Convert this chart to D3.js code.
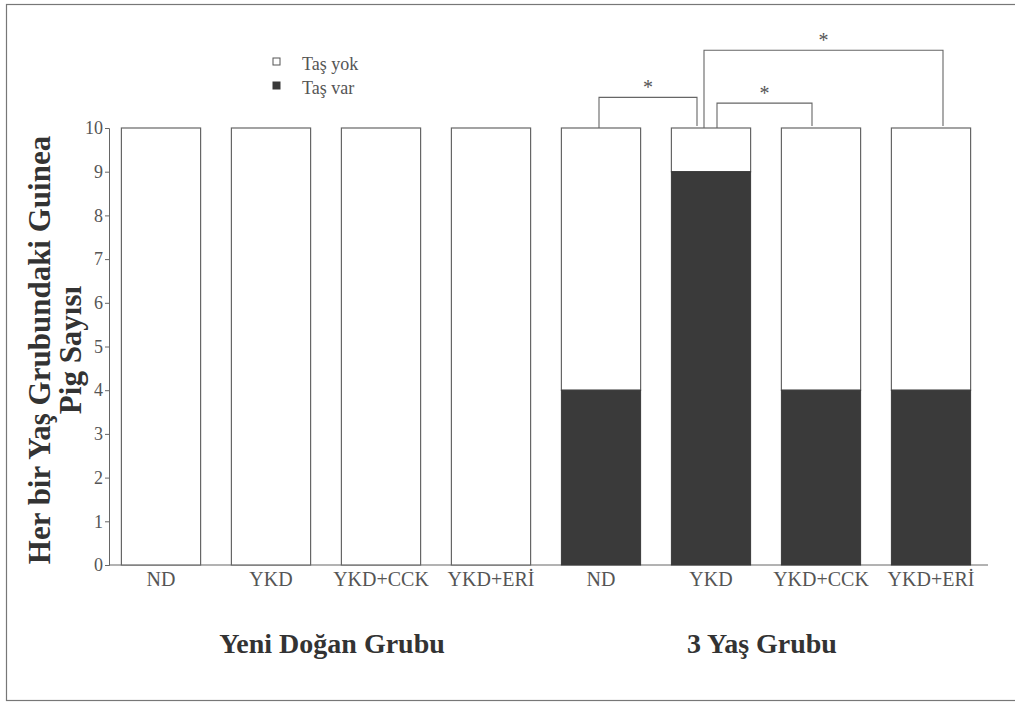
<!DOCTYPE html>
<html>
<head>
<meta charset="utf-8">
<script src="https://cdn.jsdelivr.net/npm/d3@7"></script>
<style>
  body { margin: 0; background: #fff; }
  text { font-family: "Liberation Serif", "Times New Roman", serif; }
</style>
</head>
<body>
<div id="chart"></div>
<script>
// Data are set
var groups = ["Yeni Doğan Grubu", "3 Yaş Grubu"];
var diets = ["ND", "YKD", "YKD+CCK", "YKD+ERİ"];
var tasVar = [0, 0, 0, 0, 4, 9, 4, 4];
var tasYok = [10, 10, 10, 10, 6, 1, 6, 6];
var yTicks = [0, 1, 2, 3, 4, 5, 6, 7, 8, 9, 10];
var legendLabels = ["Taş yok", "Taş var"];
var yLabel = ["Her bir Yaş Grubundaki Guinea", "Pig Sayısı"];
// significance comparisons within the 3 yas group (bar index from, to)
var comparisons = [[4, 5], [5, 6], [5, 7]];
var compLabels = ["*", "*", "*"];

// Demensions are set
var width = 1015, height = 702;
var bracketLevels = [10.7, 10.57, 11.78];
var bracketOffsets = [[-2, -14], [6, -9], [-7, 12]];
var groupLabelShift = [6, -4];

var svg = d3.select("#chart").append("svg")
    .attr("width", width)
    .attr("height", height);

// outer frame
svg.append("rect")
    .attr("x", 6.5).attr("y", 4.5)
    .attr("width", 1012).attr("height", 696)
    .attr("fill", "none")
    .attr("stroke", "#777")
    .attr("stroke-width", 1.2);

var bars = [];
groups.forEach(function(g, gi) {
    diets.forEach(function(d, di) {
        var i = gi * diets.length + di;
        bars.push({key: g + "|" + d, diet: d, group: g, var: tasVar[i], yok: tasYok[i]});
    });
});

// x scale
var x = d3.scaleBand()
    .domain(bars.map(function(d) { return d.key; }))
    .range([106, 986])
    .paddingInner(0.28)
    .paddingOuter(0.14);

// y scale
var y = d3.scaleLinear()
    .domain([0, 10])
    .range([565, 128]);

// y axis
var yAxis = svg.append("g")
    .attr("transform", "translate(109,0)")
    .call(d3.axisLeft(y).tickValues(yTicks).tickSize(4).tickPadding(2));
yAxis.select(".domain").attr("stroke", "#666");
yAxis.selectAll(".tick line").attr("stroke", "#666");
yAxis.selectAll(".tick text")
    .attr("fill", "#555")
    .style("font-size", "18px");

// x axis line
svg.append("line")
    .attr("x1", 109).attr("x2", 988)
    .attr("y1", y(0)).attr("y2", y(0))
    .attr("stroke", "#666");

// bars: Tas var (dark) and Tas yok (white) stacked
var bar = svg.append("g").selectAll("g")
    .data(bars)
    .enter().append("g");

bar.append("rect")
    .attr("x", function(d) { return x(d.key); })
    .attr("width", x.bandwidth())
    .attr("y", function(d) { return y(d.var + d.yok); })
    .attr("height", function(d) { return y(d.var) - y(d.var + d.yok); })
    .attr("fill", "#fff")
    .attr("stroke", "#666")
    .attr("stroke-width", 1.2);

bar.append("rect")
    .attr("x", function(d) { return x(d.key); })
    .attr("width", x.bandwidth())
    .attr("y", function(d) { return y(d.var); })
    .attr("height", function(d) { return y(0) - y(d.var); })
    .attr("fill", "#3a3a3a")
    .attr("stroke", "#3a3a3a");

// x tick labels
svg.append("g").selectAll("text")
    .data(bars)
    .enter().append("text")
    .attr("x", function(d) { return x(d.key) + x.bandwidth() / 2; })
    .attr("y", 586)
    .attr("text-anchor", "middle")
    .attr("fill", "#555")
    .style("font-size", "20px")
    .text(function(d) { return d.diet; });

// group labels
svg.append("g").selectAll("text")
    .data(groups)
    .enter().append("text")
    .attr("x", function(g, gi) {
        var first = x(bars[gi * diets.length].key);
        var last = x(bars[gi * diets.length + diets.length - 1].key) + x.bandwidth();
        return (first + last) / 2 + groupLabelShift[gi];
    })
    .attr("y", 653)
    .attr("text-anchor", "middle")
    .attr("fill", "#333")
    .style("font-size", "28px")
    .style("font-weight", "bold")
    .text(function(g) { return g; });

// y axis label
svg.append("g").selectAll("text")
    .data(yLabel)
    .enter().append("text")
    .attr("transform", function(d, i) {
        return "translate(" + (50 + i * 31) + "," + 350 + ") rotate(-90)";
    })
    .attr("text-anchor", "middle")
    .attr("fill", "#333")
    .style("font-size", "31px")
    .style("font-weight", "bold")
    .text(function(d) { return d; });

// legend
var legend = svg.append("g").selectAll("g")
    .data(legendLabels)
    .enter().append("g")
    .attr("transform", function(d, i) { return "translate(273," + (58 + i * 24) + ")"; });

legend.append("rect")
    .attr("width", 7).attr("height", 7)
    .attr("fill", function(d, i) { return i === 0 ? "#fff" : "#3a3a3a"; })
    .attr("stroke", function(d, i) { return i === 0 ? "#555" : "#3a3a3a"; });

legend.append("text")
    .attr("x", 29).attr("y", 12)
    .attr("fill", "#555")
    .style("font-size", "18px")
    .text(function(d) { return d; });

// significance brackets
comparisons.forEach(function(c, i) {
    var x1 = x(bars[c[0]].key) + x.bandwidth() / 2 + bracketOffsets[i][0];
    var x2 = x(bars[c[1]].key) + x.bandwidth() / 2 + bracketOffsets[i][1];
    var top = y(bracketLevels[i]);
    var b1 = y(bars[c[0]].var + bars[c[0]].yok);
    var b2 = y(bars[c[1]].var + bars[c[1]].yok);
    svg.append("path")
        .attr("d", "M" + x1 + "," + b1 + "V" + top + "H" + x2 + "V" + (b2 - 2))
        .attr("fill", "none")
        .attr("stroke", "#666")
        .attr("stroke-width", 1.1);
    svg.append("text")
        .attr("x", (x1 + x2) / 2)
        .attr("y", top - 3)
        .attr("text-anchor", "middle")
        .attr("fill", "#555")
        .style("font-size", "20px")
        .text(compLabels[i]);
});
</script>
</body>
</html>
